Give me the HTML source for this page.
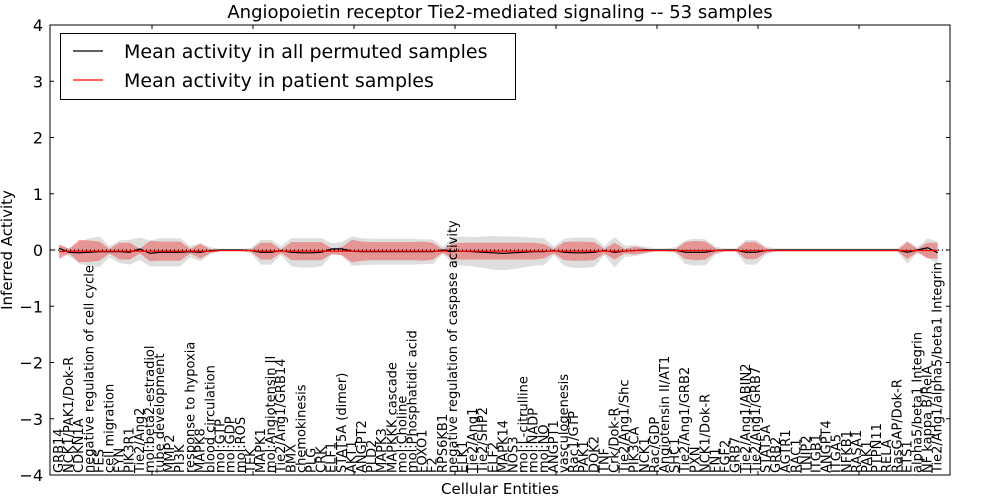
<!DOCTYPE html>
<html><head><meta charset="utf-8"><style>
body{margin:0;background:#fff;}
svg{display:block;font-family:"DejaVu Sans","Liberation Sans",sans-serif;}
</style></head><body>
<svg id="chart" width="1000" height="500" viewBox="0 0 1000 500">
<rect x="0" y="0" width="1000" height="500" fill="#fff"/>
<text x="500" y="18" font-size="18" text-anchor="middle">Angiopoietin receptor Tie2-mediated signaling -- 53 samples</text>
<g id="plot"></g>
<text x="500" y="494" font-size="15" text-anchor="middle">Cellular Entities</text>
<text transform="translate(12,250) rotate(-90)" font-size="15" text-anchor="middle">Inferred Activity</text>
<g>
<rect x="60.5" y="33.5" width="455" height="66" fill="#fff" stroke="#000" stroke-width="1"/>
<line x1="73" y1="51" x2="103" y2="51" stroke="#000" stroke-width="1.2"/>
<text x="124" y="58" font-size="19">Mean activity in all permuted samples</text>
<line x1="73" y1="80" x2="103" y2="80" stroke="#f00" stroke-width="1.2"/>
<text x="124" y="87" font-size="19">Mean activity in patient samples</text>
</g>
</svg>
<script>
const categories = ["GRB14","NCK1/PAK1/Dok-R","CDKN1A","negative regulation of cell cycle","FES","cell migration","FYN","PIK3R1","Tie2/Ang2","mol:beta2-estradiol","tube development","MMP2","PI3K","response to hypoxia","MAPK8","blood circulation","mol:GTP","mol:GDP","mol:ROS","TEK","MAPK1","mol:Angiotensin II","Tie2/Ang1/GRB14","BMX","chemokinesis","PLG","CRK","ELF1","STAT5A (dimer)","AKT1","ANGPT2","PLD2","MAPK3","MAPKKK cascade","mol:Choline","mol:Phosphatidic acid","FOXO1","F2","RPS6KB1","negative regulation of caspase activity","ELK1","Tie2/Ang1","Tie2/SHP2","ELF2","MAPK14","NOS3","mol:L-citrulline","mol:NADP","mol:NO","ANGPT1","vasculogenesis","Rac1/GTP","PAK1","DOK2","TNF","Crk/Dok-R","Tie2/Ang1/Shc","PIK3CA","NCK1","Rac/GDP","Angiotensin II/AT1","SHC1","Tie2/Ang1/GRB2","PXN","NCK1/Dok-R","FN1","FGF2","GRB7","Tie2/Ang1/ABIN2","Tie2/Ang1/GRB7","STAT5A","GRB2","AGTR1","RAC1","TNIP2","ITGB1","ANGPT4","ITGA5","NFKB1","RASA1","PAK1","PTPN11","RELA","RasGAP/Dok-R","ETS1","alpha5/beta1 Integrin","NF kappa B/RelA","Tie2/Ang1/alpha5/beta1 Integrin"];
const patientMean = [-0.03,-0.02,-0.02,-0.02,-0.02,-0.02,-0.02,-0.02,-0.02,-0.02,-0.02,-0.02,-0.02,-0.02,-0.02,-0.02,-0.01,-0.01,-0.01,-0.01,-0.02,-0.02,-0.02,-0.02,-0.02,-0.02,-0.02,-0.02,-0.02,-0.02,-0.02,-0.02,-0.02,-0.02,-0.02,-0.02,-0.02,-0.02,-0.02,-0.02,-0.02,-0.02,-0.02,-0.02,-0.02,-0.02,-0.02,-0.02,-0.02,-0.02,-0.02,-0.02,-0.02,-0.02,-0.02,-0.02,-0.02,-0.01,-0.01,-0.01,-0.01,-0.01,-0.01,-0.01,-0.01,-0.01,-0.01,-0.01,-0.01,-0.01,-0.01,-0.01,-0.01,-0.01,-0.01,-0.01,-0.01,-0.01,-0.01,-0.01,-0.01,-0.01,-0.01,-0.01,-0.01,-0.01,-0.01,-0.01];
const patientStd = [0.13,0.04,0.2,0.19,0.17,0.04,0.15,0.15,0.04,0.18,0.17,0.17,0.17,0.04,0.13,0.03,0.01,0.01,0.01,0.02,0.15,0.15,0.03,0.16,0.16,0.16,0.16,0.05,0.07,0.2,0.17,0.16,0.16,0.16,0.16,0.16,0.17,0.15,0.03,0.14,0.15,0.15,0.15,0.15,0.15,0.15,0.15,0.15,0.13,0.04,0.16,0.17,0.17,0.16,0.04,0.15,0.04,0.07,0.04,0.01,0.01,0.02,0.15,0.17,0.16,0.04,0.01,0.01,0.15,0.15,0.04,0.01,0.01,0.01,0.01,0.01,0.01,0.01,0.01,0.01,0.01,0.01,0.01,0.01,0.15,0.03,0.14,0.14];
const permMean = [0.03,-0.04,-0.05,-0.04,-0.03,-0.03,-0.03,-0.04,0.02,-0.06,-0.04,-0.04,-0.04,-0.03,-0.04,-0.01,0,0,0,-0.01,-0.04,-0.04,-0.01,-0.04,-0.05,-0.05,-0.04,0.02,0.02,-0.02,-0.03,-0.03,-0.03,-0.03,-0.03,-0.03,-0.03,-0.03,0,-0.02,-0.02,-0.03,-0.04,-0.05,-0.06,-0.05,-0.04,-0.03,-0.03,-0.01,-0.04,-0.05,-0.05,-0.04,-0.01,-0.04,-0.02,-0.01,0,0,0,0,-0.04,-0.04,-0.04,-0.01,0,0,-0.04,-0.04,-0.01,0,0,0,0,0,0,0,0,0,0,0,0,0,-0.04,0,0.04,-0.05];
const permStd = [0.05,0.07,0.19,0.25,0.27,0.1,0.2,0.22,0.2,0.23,0.25,0.25,0.25,0.1,0.16,0.06,0.02,0.02,0.02,0.05,0.22,0.22,0.08,0.25,0.26,0.26,0.25,0.1,0.12,0.26,0.24,0.23,0.23,0.23,0.23,0.23,0.22,0.22,0.06,0.24,0.26,0.26,0.28,0.3,0.3,0.29,0.27,0.25,0.24,0.08,0.24,0.27,0.27,0.26,0.08,0.27,0.1,0.1,0.06,0.03,0.03,0.05,0.21,0.24,0.23,0.07,0.03,0.03,0.22,0.22,0.07,0.03,0.03,0.03,0.03,0.03,0.03,0.03,0.03,0.03,0.03,0.03,0.03,0.03,0.2,0.05,0.17,0.2];
const yTicks = [4,3,2,1,0,-1,-2,-3,-4];
const yTickLabels = ["4","3","2","1","0","\u22121","\u22122","\u22123","\u22124"];

const L=50,R=950,T=25,B=475;
const xs=i=>59+i*10.1;
const ys=v=>250-v*56.25;
const NS='http://www.w3.org/2000/svg';
const plot=document.getElementById('plot');
function mk(tag,attrs){const e=document.createElementNS(NS,tag);for(const k in attrs)e.setAttribute(k,attrs[k]);plot.appendChild(e);return e;}
function band(mean,std,fill,name){
  let top=mean.map((m,i)=>xs(i)+','+ys(m+std[i]));
  let bot=mean.map((m,i)=>xs(i)+','+ys(m-std[i])).reverse();
  const p=mk('polygon',{points:top.concat(bot).join(' '),fill:fill});
  
  
}
band(permMean,permStd,'#dedede','permuted-std-band');
band(patientMean,patientStd,'rgba(235,100,100,0.6)','patient-std-band');
const zl=mk('line',{x1:L,x2:R,y1:ys(0),y2:ys(0),stroke:'#000','stroke-dasharray':'1,3','stroke-width':1.2});


const pl=mk('polyline',{points:permMean.map((m,i)=>xs(i)+','+ys(m)).join(' '),fill:'none',stroke:'#000','stroke-width':1.2});


const rl=mk('polyline',{points:patientMean.map((m,i)=>xs(i)+','+ys(m)).join(' '),fill:'none',stroke:'#f00','stroke-width':1.2});


const fr=mk('rect',{x:L,y:T,width:R-L,height:B-T,fill:'none',stroke:'#000','stroke-width':1});


yTicks.forEach((v,k)=>{
  const y=ys(v);
  mk('line',{x1:L,x2:L+4,y1:y,y2:y,stroke:'#000'});
  mk('line',{x1:R,x2:R-4,y1:y,y2:y,stroke:'#000'});
  const t=mk('text',{x:L-7,y:y+6,'font-size':16,'text-anchor':'end'});
  t.textContent=yTickLabels[k];
  
  
});
for(let x=152;x<R;x+=101){
  mk('line',{x1:x,x2:x,y1:T,y2:T+4,stroke:'#000'});
  mk('line',{x1:x,x2:x,y1:B,y2:B-4,stroke:'#000'});
}
categories.forEach((c,i)=>{
  const x=xs(i)+4;
  const t=mk('text',{transform:'translate('+x+','+(B-2)+') rotate(-90)','font-size':13});
  t.textContent=c;
  
  
});
</script>
</body></html>
